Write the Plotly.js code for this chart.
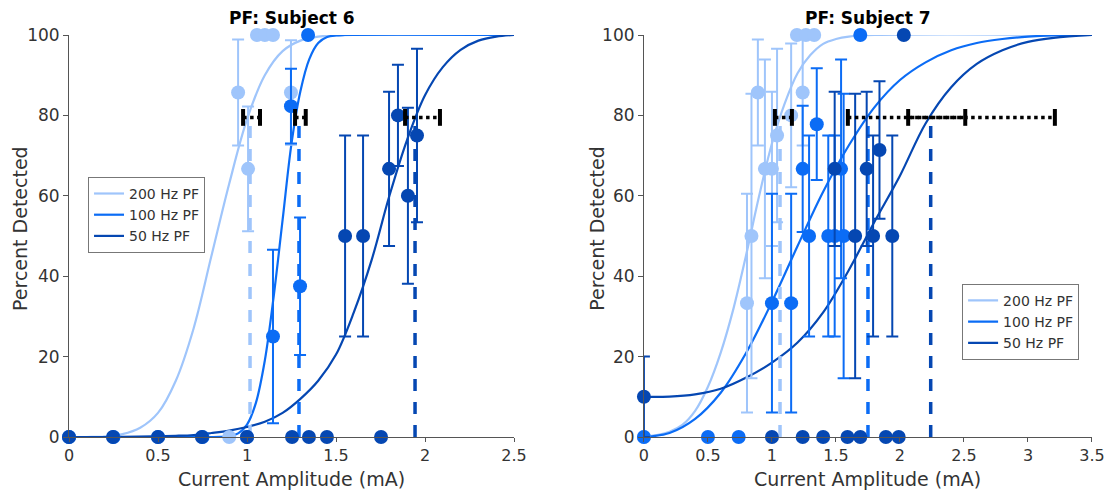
<!DOCTYPE html>
<html><head><meta charset="utf-8">
<script src="https://cdn.plot.ly/plotly-3.0.1.min.js"></script>
<style>html,body{margin:0;padding:0;background:#fff}#chart{width:1112px;height:493px}</style>
</head><body><div id="chart"></div>
<script>
// ---------- shared ----------
const seriesNames = ['200 Hz PF', '100 Hz PF', '50 Hz PF'];
const panelTitles = ['PF: Subject 6', 'PF: Subject 7'];
const xTitle = 'Current Amplitude (mA)';
const yTitle = 'Percent Detected';
const thresholdLevel = 79.5;

// ---------- Subject 6 : data points ----------
const s6_200_x = [0, 0.9, 0.95, 1.006, 1.056, 1.10, 1.146, 1.247];
const s6_200_y = [0, 0, 85.7, 66.7, 100, 100, 100, 85.7];
const s6_200_err = [0, 0, 13.2, 15.5, 0, 0, 0, 13];

const s6_100_x = [0, 0.25, 0.5, 0.75, 1.0, 1.146, 1.247, 1.298, 1.343];
const s6_100_y = [0, 0, 0, 0, 0, 25, 82.3, 37.5, 100];
const s6_100_err = [0, 0, 0, 0, 0, 21.6, 9.3, 17.1, 0];

const s6_50_x = [0, 0.247, 0.5, 0.747, 1.0, 1.253, 1.348, 1.449, 1.551, 1.652, 1.753, 1.798, 1.848, 1.904, 1.955];
const s6_50_y = [0, 0, 0, 0, 0, 0, 0, 0, 50, 50, 0, 66.7, 80, 60, 75];
const s6_50_err = [0, 0, 0, 0, 0, 0, 0, 0, 25, 25, 0, 19.2, 12.6, 21.9, 21.6];

// ---------- Subject 6 : fitted curves ----------
const s6_fit200_x = [0, 0.1, 0.2, 0.3, 0.4, 0.5, 0.6, 0.7, 0.8, 0.9, 1.0, 1.1, 1.2, 1.3, 1.4, 1.5, 1.6, 2.5];
const s6_fit200_y = [0, 0, 0.1, 0.7, 2.3, 6, 14, 27, 45, 63, 79, 90, 96, 98.6, 99.6, 99.9, 100, 100];
const s6_fit100_x = [0, 0.4, 0.8, 0.85, 0.9, 0.95, 1.0, 1.05, 1.1, 1.15, 1.2, 1.25, 1.3, 1.35, 1.4, 1.45, 1.5, 1.55, 2.5];
const s6_fit100_y = [0, 0, 0, 0.04, 0.2, 0.9, 3.1, 8.5, 19, 35, 54, 73, 86, 94, 98, 99.5, 99.9, 100, 100];
const s6_fit50_x = [0, 0.3, 0.6, 0.7, 0.8, 0.9, 1.0, 1.1, 1.2, 1.3, 1.4, 1.5, 1.6, 1.7, 1.8, 1.9, 2.0, 2.1, 2.2, 2.3, 2.4, 2.5];
const s6_fit50_y = [0, 0.05, 0.3, 0.5, 1.0, 1.6, 2.5, 3.8, 6, 9.5, 14, 20.5, 31, 44, 60, 74, 85, 92, 96.3, 98.6, 99.6, 100];

const s6_thresh = [1.017, 1.292, 1.944];
const s6_ciLow = [0.978, 1.27, 1.888];
const s6_ciHigh = [1.073, 1.33, 2.084];

// ---------- Subject 7 : data points ----------
const s7_200_x = [0, 0.805, 0.84, 0.89, 0.945, 1.0, 1.04, 1.15, 1.195, 1.24, 1.265, 1.33];
const s7_200_y = [0, 33.3, 50, 85.7, 66.7, 66.7, 75, 80, 100, 85.7, 100, 100];
const s7_200_err = [0, 27.2, 35.4, 13.2, 27.2, 19.2, 21.6, 17.9, 0, 13.2, 0, 0];

const s7_100_x = [0, 0.5, 0.74, 1.0, 1.15, 1.24, 1.29, 1.35, 1.44, 1.49, 1.54, 1.56, 1.69];
const s7_100_y = [0, 0, 0, 33.3, 33.3, 66.7, 50, 77.8, 50, 50, 66.7, 50, 100];
const s7_100_err = [0, 0, 0, 27.2, 27.2, 15.7, 25, 13.9, 25, 25, 27.2, 35.4, 0];

const s7_50_x = [0, 1.0, 1.24, 1.40, 1.49, 1.59, 1.65, 1.69, 1.74, 1.79, 1.84, 1.89, 1.94, 1.99, 2.03];
const s7_50_y = [10, 0, 0, 0, 66.7, 0, 50, 0, 66.7, 50, 71.4, 0, 50, 0, 100];
const s7_50_err = [10, 0, 0, 0, 19.2, 0, 35.4, 0, 19.2, 25, 17.1, 0, 25, 0, 0];

// ---------- Subject 7 : fitted curves ----------
const s7_fit200_x = [0, 0.1, 0.2, 0.3, 0.4, 0.5, 0.6, 0.7, 0.8, 0.9, 1.0, 1.1, 1.2, 1.3, 1.4, 1.5, 1.6, 1.8, 3.5];
const s7_fit200_y = [0.2, 0.5, 1.3, 3, 6.5, 12.5, 21, 32, 45.5, 60, 73, 83, 90.5, 95, 97.8, 99, 99.6, 100, 100];
const s7_fit100_x = [0, 0.2, 0.4, 0.6, 0.8, 1.0, 1.2, 1.4, 1.6, 1.8, 2.0, 2.2, 2.4, 2.6, 2.8, 3.0, 3.2, 3.5];
const s7_fit100_y = [0, 1.0, 4.5, 11, 21, 33.6, 47.5, 61, 72.5, 82, 88.8, 93.2, 96.2, 98, 99, 99.6, 99.9, 100];
const s7_fit50_x = [0, 0.2, 0.4, 0.6, 0.8, 1.0, 1.2, 1.4, 1.6, 1.8, 2.0, 2.2, 2.4, 2.6, 2.8, 3.0, 3.2, 3.5];
const s7_fit50_y = [10, 10.05, 10.6, 12, 14.8, 18.5, 23.5, 31, 41.5, 53.5, 65, 78, 87, 92.8, 96.2, 98.3, 99.3, 100];

const s7_thresh = [1.063, 1.75, 2.24];
const s7_ciLow = [1.023, 1.593, 2.064];
const s7_ciHigh = [1.156, 2.51, 3.21];

// ---------- styling ----------
const colors = ['#9fc5fb', '#0b6cf5', '#0547b2'];
const FONT = 'DejaVu Sans, Verdana, sans-serif';

function curve(x, y, i, xa, ya, leg) {
  return {type: 'scatter', mode: 'lines', x: x, y: y, xaxis: xa, yaxis: ya,
    name: seriesNames[i], legend: leg, showlegend: true,
    line: {color: colors[i], width: 2.2, shape: 'spline', smoothing: 1},
    hoverinfo: 'skip'};
}
function pts(x, y, e, i, xa, ya) {
  return {type: 'scatter', mode: 'markers', x: x, y: y, xaxis: xa, yaxis: ya,
    showlegend: false, cliponaxis: false,
    marker: {size: 14, color: colors[i]},
    error_y: {type: 'data', array: e, visible: true, color: colors[i], thickness: 2, width: 6},
    hoverinfo: 'skip'};
}
function thresh(t, i, xa, ya) {
  return {type: 'scatter', mode: 'lines', x: [t, t], y: [0, thresholdLevel], xaxis: xa, yaxis: ya,
    showlegend: false, line: {color: colors[i], width: 3.5, dash: '12px,11px'}, hoverinfo: 'skip'};
}
function ci(lo, hi, xa, ya) {
  return {type: 'scatter', mode: 'lines+markers', x: [lo, hi], y: [thresholdLevel, thresholdLevel],
    xaxis: xa, yaxis: ya, showlegend: false, cliponaxis: false,
    line: {color: '#000', width: 3.5, dash: 'dot'},
    marker: {symbol: 'line-ns', size: 12, color: '#000', line: {width: 4, color: '#000'}},
    hoverinfo: 'skip'};
}

const traces = [];
// Subject 6
traces.push(curve(s6_fit200_x, s6_fit200_y, 0, 'x', 'y', 'legend'));
traces.push(curve(s6_fit100_x, s6_fit100_y, 1, 'x', 'y', 'legend'));
traces.push(curve(s6_fit50_x, s6_fit50_y, 2, 'x', 'y', 'legend'));
for (let i = 0; i < 3; i++) traces.push(thresh(s6_thresh[i], i, 'x', 'y'));
traces.push(pts(s6_200_x, s6_200_y, s6_200_err, 0, 'x', 'y'));
traces.push(pts(s6_100_x, s6_100_y, s6_100_err, 1, 'x', 'y'));
traces.push(pts(s6_50_x, s6_50_y, s6_50_err, 2, 'x', 'y'));
for (let i = 0; i < 3; i++) traces.push(ci(s6_ciLow[i], s6_ciHigh[i], 'x', 'y'));
// Subject 7
traces.push(curve(s7_fit200_x, s7_fit200_y, 0, 'x2', 'y2', 'legend2'));
traces.push(curve(s7_fit100_x, s7_fit100_y, 1, 'x2', 'y2', 'legend2'));
traces.push(curve(s7_fit50_x, s7_fit50_y, 2, 'x2', 'y2', 'legend2'));
for (let i = 0; i < 3; i++) traces.push(thresh(s7_thresh[i], i, 'x2', 'y2'));
traces.push(pts(s7_200_x, s7_200_y, s7_200_err, 0, 'x2', 'y2'));
traces.push(pts(s7_100_x, s7_100_y, s7_100_err, 1, 'x2', 'y2'));
traces.push(pts(s7_50_x, s7_50_y, s7_50_err, 2, 'x2', 'y2'));
for (let i = 0; i < 3; i++) traces.push(ci(s7_ciLow[i], s7_ciHigh[i], 'x2', 'y2'));

function xAxis(domain, range, anchor) {
  return {domain: domain, range: range, anchor: anchor, dtick: 0.5, tick0: 0,
    showline: true, linecolor: '#555', linewidth: 1, ticks: 'outside', ticklen: 4, tickcolor: '#555',
    tickfont: {size: 16, color: '#333'}, showgrid: false, zeroline: false, automargin: false};
}
function yAxis(anchor) {
  return {domain: [0, 1], range: [0, 100], anchor: anchor, dtick: 20, tick0: 0,
    showline: true, linecolor: '#555', linewidth: 1, ticks: 'outside', ticklen: 5, tickcolor: '#555',
    tickfont: {size: 17, color: '#333'}, showgrid: false, zeroline: false, automargin: false};
}
const legendStyle = {xanchor: 'left', yanchor: 'top', bgcolor: '#fff', bordercolor: '#777', borderwidth: 1,
  font: {size: 14, color: '#333', family: FONT}};

const titleFont = {size: 17, color: '#000', family: FONT};
const axisTitleFont = {size: 19, color: '#333', family: FONT};
function ann(text, x, y, font, angle) {
  return {text: text, xref: 'paper', yref: 'paper', x: x, y: y, xanchor: 'center', yanchor: 'middle',
    showarrow: false, font: font, textangle: angle || 0};
}

const layout = {
  width: 1112, height: 493,
  margin: {l: 69, r: 20, t: 35, b: 56},
  paper_bgcolor: '#fff', plot_bgcolor: '#fff',
  font: {family: FONT, color: '#333'},
  xaxis: xAxis([0, 0.435], [0, 2.5], 'y'),
  yaxis: yAxis('x'),
  xaxis2: xAxis([0.562, 1], [0, 3.5], 'y2'),
  yaxis2: yAxis('x2'),
  legend: Object.assign({x: 0.0186, y: 0.647}, legendStyle),
  legend2: Object.assign({x: 0.873, y: 0.381}, legendStyle),
  annotations: [
    ann('<b>' + panelTitles[0] + '</b>', 0.2175, 1.042, titleFont),
    ann('<b>' + panelTitles[1] + '</b>', 0.781, 1.042, titleFont),
    ann(xTitle, 0.2175, -0.104, axisTitleFont),
    ann(xTitle, 0.781, -0.104, axisTitleFont),
    ann(yTitle, -0.0479, 0.52, axisTitleFont, -90),
    ann(yTitle, 0.516, 0.52, axisTitleFont, -90)
  ],
  showlegend: true
};

Plotly.newPlot('chart', traces, layout, {displayModeBar: false, staticPlot: true});
</script>
</body></html>
